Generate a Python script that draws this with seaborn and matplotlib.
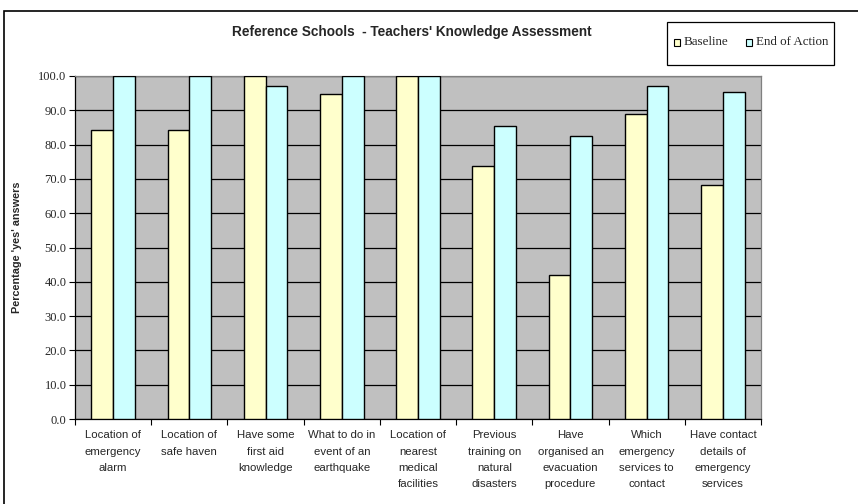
import matplotlib
matplotlib.use("Agg")
import matplotlib.pyplot as plt
import seaborn as sns
import pandas as pd
from matplotlib.patches import Rectangle
from matplotlib.ticker import FixedLocator, FormatStrFormatter

categories = [
    "Location of\nemergency\nalarm",
    "Location of\nsafe haven",
    "Have some\nfirst aid\nknowledge",
    "What to do in\nevent of an\nearthquake",
    "Location of\nnearest\nmedical\nfacilities",
    "Previous\ntraining on\nnatural\ndisasters",
    "Have\norganised an\nevacuation\nprocedure",
    "Which\nemergency\nservices to\ncontact",
    "Have contact\ndetails of\nemergency\nservices",
]
baseline = [84.2, 84.2, 100.0, 94.7, 100.0, 73.7, 42.1, 89.0, 68.2]
end_of_action = [100.0, 100.0, 97.0, 100.0, 100.0, 85.3, 82.4, 97.0, 95.4]
series_names = ["Baseline", "End of Action"]
series_colors = ["#FFFFCC", "#CCFFFF"]

df = pd.DataFrame({
    "category": categories * 2,
    "value": baseline + end_of_action,
    "series": [series_names[0]] * len(categories) + [series_names[1]] * len(categories),
})

sns.set_theme(style="white")
plt.rcParams["font.family"] = ["Liberation Sans", "DejaVu Sans"]
serif = ["Liberation Serif", "DejaVu Serif"]

fig = plt.figure(figsize=(8.58, 5.04), dpi=100)
ax = fig.add_axes([75 / 858, 1 - 419 / 504, 686 / 858, 343 / 504])
ax.set_facecolor("#C0C0C0")

sns.barplot(
    data=df, x="category", y="value", hue="series",
    palette=series_colors, hue_order=series_names, saturation=1,
    width=0.57, gap=0, edgecolor="black", linewidth=1.0,
    ax=ax, legend=False, zorder=3,
)

ax.set_ylim(0, 100)
ax.set_xlim(-0.5, len(categories) - 0.5)
ax.yaxis.set_major_locator(FixedLocator([i * 10 for i in range(11)]))
ax.yaxis.set_major_formatter(FormatStrFormatter("%.1f"))
ax.grid(axis="y", color="black", linewidth=0.9, zorder=1)
ax.set_axisbelow(True)

ax.tick_params(axis="y", which="major", direction="out", length=4, width=0.8,
               color="black", labelsize=9, pad=2, left=True)
for lbl in ax.get_yticklabels():
    lbl.set_family(serif)
ax.set_xticks(range(len(categories)))
ax.set_xticklabels(categories, fontsize=8.2, linespacing=1.8, va="top")
ax.tick_params(axis="x", which="major", length=0, pad=8)
ax.set_xticks([i - 0.5 for i in range(len(categories) + 1)], minor=True)
ax.tick_params(axis="x", which="minor", direction="out", length=4, width=0.8,
               color="black", bottom=True)

for side in ["top", "right"]:
    ax.spines[side].set_color("#808080")
    ax.spines[side].set_linewidth(0.9)
for side in ["left", "bottom"]:
    ax.spines[side].set_color("black")
    ax.spines[side].set_linewidth(0.9)

ax.set_xlabel("")
ax.set_ylabel("Percentage 'yes' answers", fontsize=7.8, fontweight="bold", labelpad=12)

fig.text(412 / 858, 1 - 32 / 504, "Reference Schools  - Teachers' Knowledge Assessment",
         ha="center", va="center", fontsize=9.8, fontweight="bold")

# outer chart frame
fig.patches.append(Rectangle((4 / 858, -0.1), 1.0, 1 - 11 / 504 + 0.1,
                             transform=fig.transFigure, fill=False,
                             edgecolor="black", linewidth=1.2))

# legend box
fig.patches.append(Rectangle((667 / 858, 1 - 65 / 504), 167 / 858, 43 / 504,
                             transform=fig.transFigure, facecolor="white",
                             edgecolor="black", linewidth=0.9))
for x0, name, col in [(674, series_names[0], series_colors[0]),
                      (746, series_names[1], series_colors[1])]:
    fig.patches.append(Rectangle((x0 / 858, 1 - 46 / 504), 6 / 858, 7 / 504,
                                 transform=fig.transFigure, facecolor=col,
                                 edgecolor="black", linewidth=0.8))
    fig.text((x0 + 10) / 858, 1 - 42 / 504, name, ha="left", va="center",
             fontsize=9.4, family=serif)

fig.savefig("out.png", dpi=100)
